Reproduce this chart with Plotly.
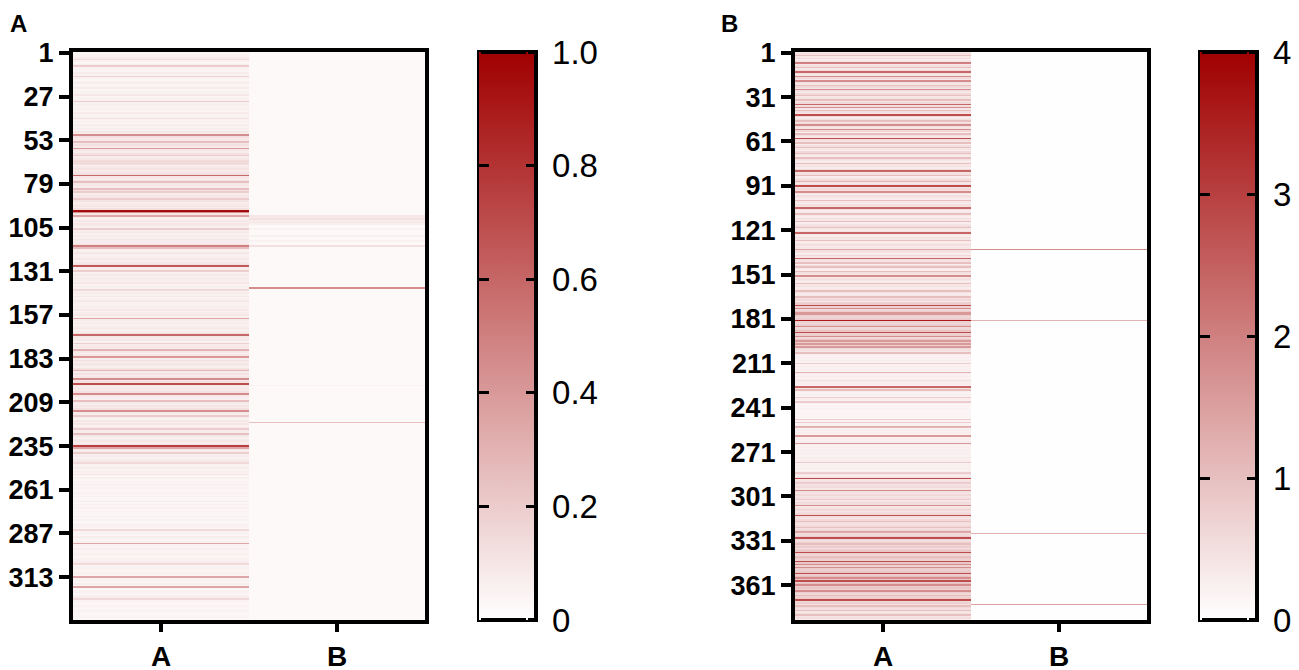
import plotly.graph_objects as go

W, H = 1299, 670
OFF = 8  # the page body adds an 8 px margin around the figure

# Panel A: per-row values, column "A" (scale 0-1)
panel_a_col_a = [
    .04, .06, .05, .08, .15, .05, .04, .07, .20, .05,
    .06, .04, .08, .05, .18, .06, .04, .05, .07, .04,
    .05, .08, .04, .06, .05, .09, .04, .05, .06, .20,
    .05, .07, .04, .06, .05, .04, .08, .05, .06, .12,
    .05, .06, .04, .07, .05, .08, .06, .10, .07, .45,
    .12, .08, .10, .25, .09, .12, .08, .40, .10, .07,
    .12, .20, .08, .10, .14, .15, .14, .06, .09, .11,
    .07, .10, .12, .60, .10, .08, .12, .25, .09, .10,
    .08, .25, .12, .20, .07, .10, .09, .20, .11, .06,
    .08, .10, .07, .12, .95, .45, .10, .35, .08, .06,
    .09, .07, .10, .08, .06, .20, .07, .09, .05, .08,
    .06, .10, .07, .08, .12, .50, .25, .08, .06, .09,
    .07, .05, .08, .10, .06, .09, .12, .65, .08, .07,
    .20, .06, .09, .05, .08, .07, .06, .10, .05, .07,
    .06, .15, .05, .08, .06, .09, .05, .07, .10, .06,
    .05, .08, .06, .09, .05, .07, .10, .06, .35, .08,
    .06, .09, .05, .07, .10, .06, .08, .12, .60, .10,
    .07, .09, .06, .20, .08, .10, .07, .30, .09, .06,
    .10, .40, .08, .12, .07, .10, .09, .06, .12, .30,
    .08, .11, .07, .10, .45, .09, .12, .70, .10, .08,
    .09, .07, .12, .45, .10, .08, .06, .25, .09, .07,
    .10, .08, .12, .45, .09, .07, .20, .08, .06, .09,
    .07, .10, .06, .09, .20, .08, .07, .25, .09, .06,
    .08, .10, .07, .12, .75, .35, .09, .07, .20, .06,
    .08, .05, .07, .09, .15, .06, .05, .08, .04, .06,
    .05, .10, .04, .06, .03, .05, .04, .06, .03, .05,
    .04, .03, .06, .04, .05, .03, .04, .07, .03, .05,
    .04, .06, .03, .05, .04, .03, .06, .04, .05, .03,
    .04, .06, .05, .04, .15, .05, .06, .04, .07, .05,
    .04, .06, .35, .05, .04, .07, .05, .04, .06, .05,
    .04, .06, .05, .08, .15, .04, .05, .06, .04, .05,
    .06, .04, .35, .05, .06, .04, .07, .05, .35, .04,
    .05, .06, .04, .05, .07, .15, .05, .04, .03, .05,
    .04, .03, .05, .04, .03, .04, .05, .03,
]

# Panel A, column "B": near-zero everywhere except these rows
panel_a_col_b_base = 0.025
panel_a_col_b_rows = [98, 99, 100, 101, 102, 103, 106, 110, 113, 116, 141, 199, 221]
panel_a_col_b_vals = [.10, .08, .12, .07, .10, .06, .05, .06, .05, .12, .45, .05, .25]

# Panel B: per-row values, column "A" (scale 0-4)
panel_b_col_a = [
    .4, .5, 1.0, .4, .6, .3, .5, 2.0, .4, .5,
    1.0, .4, .6, 2.4, .5, .4, 1.8, .6, .4, 1.8,
    .5, .4, 1.0, .6, .4, 1.8, .5, .3, .6, 1.0,
    .4, .5, 1.0, .4, .6, 2.4, .5, 1.8, .4, 1.0,
    .5, .4, 2.8, .6, .3, .5, 1.0, .4, .6, 1.8,
    .5, .4, 1.8, .6, .3, 1.0, .5, .4, 2.8, .5,
    .4, 1.0, .3, .5, 1.0, .4, .3, .6, 1.0, .4,
    .3, 1.0, .5, .4, .3, 1.0, .4, .5, .3, .6,
    2.4, .4, .5, 1.0, .3, .4, .6, 1.2, .4, .5,
    2.8, .4, .6, .5, 1.8, .4, .3, .5, .4, .3,
    1.0, .4, .3, .5, .4, 2.4, .5, .3, .4, 1.0,
    .4, .3, .5, .4, 1.0, .3, .4, .5, 1.0, .4,
    .3, .5, 2.4, .4, .3, .5, .4, 1.0, .3, .4,
    .5, .3, .4, 1.4, .5, .4, .3, .6, .4, 2.4,
    .5, .4, 1.0, .3, .5, 1.0, .4, .3, 1.0, .5,
    .4, 1.8, .3, .5, .4, .3, 1.0, .4, .5, .3,
    .4, 1.0, .5, .3, .4, 1.0, .5, .6, .4, .7,
    .8, 2.8, .7, 1.8, .6, .8, 1.6, 1.6, .7, .6,
    .8, 3.6, .7, .6, .8, 1.8, .6, .7, .9, 2.8,
    .7, .8, 1.8, .6, .9, 1.6, .8, 1.6, .7, 1.6,
    .6, .5, .4, 1.0, .3, .2, .3, .2, .3, .2,
    .8, .2, .3, .2, .3, .2, 1.2, .3, .2, .3,
    .2, .3, .4, .2, .3, .2, 2.4, .4, 1.0, .3,
    .2, .3, .2, .8, .3, .2, .8, .2, .15, .2,
    .15, .2, .15, .15, .2, .15, .2, .15, .8, .2,
    .8, .2, .3, 1.2, .2, .3, .2, .3, .2, 1.6,
    .2, .3, .2, .3, 1.6, .3, .2, .3, .2, .3,
    .2, .3, .2, .2, .3, .2, .3, .8, .2, .3,
    .2, .3, .2, .3, .8, .4, .3, .5, 2.8, .4,
    .5, .8, .4, .5, .6, .4, 1.8, .5, .4, .6,
    .4, .5, .8, .4, .6, .5, 1.8, .4, .5, .6,
    .4, .5, .6, 2.8, .5, .4, .6, 1.0, .5, .4,
    .6, 1.0, .5, .7, 1.4, .5, .6, .8, 2.8, .6,
    .5, .7, 1.0, .6, .8, .5, .7, .9, 2.8, .7,
    .6, 1.0, .8, .7, 2.8, .9, 1.8, .7, 1.8, .8,
    .7, .9, 2.8, .8, 1.0, 1.8, .9, 2.8, .8, 1.0,
    1.8, .8, .9, .7, 1.8, .8, .6, 1.0, .7, .8,
    2.8, .6, .7, .5, 1.0, .6, .5, 1.0, .4, .5,
    1.0, .4, .5, .3,
]

# Panel B, column "B"
panel_b_col_b_base = 0.01
panel_b_col_b_rows = [134, 182, 326, 374]
panel_b_col_b_vals = [1.8, 1.2, 1.2, 1.5]

columns = ["A", "B"]
ticks_a = [1, 27, 53, 79, 105, 131, 157, 183, 209, 235, 261, 287, 313]
ticks_b = [1, 31, 61, 91, 121, 151, 181, 211, 241, 271, 301, 331, 361]
cbar_a_vals = [0, 0.2, 0.4, 0.6, 0.8, 1.0]
cbar_a_text = ["0", "0.2", "0.4", "0.6", "0.8", "1.0"]
cbar_b_vals = [0, 1, 2, 3, 4]
cbar_b_text = ["0", "1", "2", "3", "4"]


def build_column(n, base, rows, vals):
    col = [base] * n
    for r, v in zip(rows, vals):
        col[r - 1] = v
    return col


n_a = len(panel_a_col_a)
n_b = len(panel_b_col_a)
col_b_a = build_column(n_a, panel_a_col_b_base, panel_a_col_b_rows, panel_a_col_b_vals)
col_b_b = build_column(n_b, panel_b_col_b_base, panel_b_col_b_rows, panel_b_col_b_vals)

z_a = [[a, b] for a, b in zip(panel_a_col_a, col_b_a)]
z_b = [[a, b] for a, b in zip(panel_b_col_a, col_b_b)]

reds = [[0, "#ffffff"], [1, "#a00000"]]
FONT = "Liberation Sans, Arial, sans-serif"


def px(x):
    return (x - OFF) / W


def py(y):
    return 1 - (y - OFF) / H


# window-pixel layout from the reference
ydom = [py(620), py(52)]
xdom_a = [px(73), px(425)]
xdom_b = [px(795), px(1147)]
cb_thick = 57
cb_a_left, cb_b_left = 479, 1200   # bar outline centre, window px


def cbar(x, vals, text, labels=True, ticklen=8, tickcolor="rgba(0,0,0,0)",
         thickness=cb_thick, outline=4):
    return dict(
        x=px(x), xanchor="left", xpad=0,
        y=ydom[1], yanchor="top", ypad=0,
        len=ydom[1] - ydom[0], thickness=thickness,
        outlinewidth=outline, outlinecolor="black",
        ticks="outside", ticklen=ticklen, tickwidth=3, tickcolor=tickcolor,
        tickvals=vals, ticktext=text, showticklabels=labels,
        tickfont=dict(family=FONT, size=33, color="black"),
    )


def heat(z, n, zmax, bar, xa, ya, opacity=1.0):
    return go.Heatmap(
        z=z, x=[0, 1], y=list(range(1, n + 1)),
        colorscale=reds, zmin=0, zmax=zmax, zsmooth=False,
        colorbar=bar, xaxis=xa, yaxis=ya, opacity=opacity,
        hoverinfo="skip" if opacity == 0 else None,
    )


fig = go.Figure()
panels = [
    (z_a, n_a, 1, cb_a_left, cbar_a_vals, cbar_a_text, "x", "y"),
    (z_b, n_b, 4, cb_b_left, cbar_b_vals, cbar_b_text, "x2", "y2"),
]
for z, n, zmax, left, vals, text, xa, ya in panels:
    # main colorbar: invisible outside ticks only push the labels off the bar
    fig.add_trace(heat(z, n, zmax, cbar(left, vals, text), xa, ya))
for z, n, zmax, left, vals, text, xa, ya in panels:
    inner = vals[1:-1]
    # zero-width colorbars that only draw the short inner tick marks
    fig.add_trace(heat(z, n, zmax, cbar(left, inner, None, labels=False, ticklen=10,
                                        tickcolor="black", thickness=0, outline=0),
                       xa, ya, opacity=0))
    fig.add_trace(heat(z, n, zmax, cbar(left + cb_thick - 10, inner, None, labels=False,
                                        ticklen=10, tickcolor="black", thickness=0,
                                        outline=0),
                       xa, ya, opacity=0))

xax = dict(
    range=[-0.5, 1.5], tickvals=[0, 1], ticktext=columns,
    ticks="outside", ticklen=8, tickwidth=4, tickcolor="black",
    showline=True, linewidth=4, linecolor="black", mirror=True,
    showgrid=False, zeroline=False,
    tickfont=dict(family=FONT, size=28, color="black", weight="bold"),
)
yax = dict(
    ticks="outside", ticklen=10, tickwidth=4, tickcolor="black",
    showline=True, linewidth=4, linecolor="black", mirror=True,
    showgrid=False, zeroline=False, domain=ydom,
    tickfont=dict(family=FONT, size=27, color="black", weight="bold"),
)

fig.update_layout(
    width=W, height=H,
    margin=dict(l=0, r=0, t=0, b=0, autoexpand=False),
    paper_bgcolor="white", plot_bgcolor="white",
    showlegend=False,
    xaxis=dict(xax, domain=xdom_a, anchor="y"),
    yaxis=dict(yax, range=[n_a + 0.5, 0.5], tickvals=ticks_a, anchor="x"),
    xaxis2=dict(xax, domain=xdom_b, anchor="y2"),
    yaxis2=dict(yax, range=[n_b + 0.5, 0.5], tickvals=ticks_b, anchor="x2"),
    annotations=[
        dict(text="A", x=0, y=1, xref="paper", yref="paper",
             xanchor="left", yanchor="top", showarrow=False,
             font=dict(family=FONT, size=24, color="black", weight="bold")),
        dict(text="B", x=px(719), y=1, xref="paper", yref="paper",
             xanchor="left", yanchor="top", showarrow=False,
             font=dict(family=FONT, size=24, color="black", weight="bold")),
    ],
)

fig.write_html("out.html")
